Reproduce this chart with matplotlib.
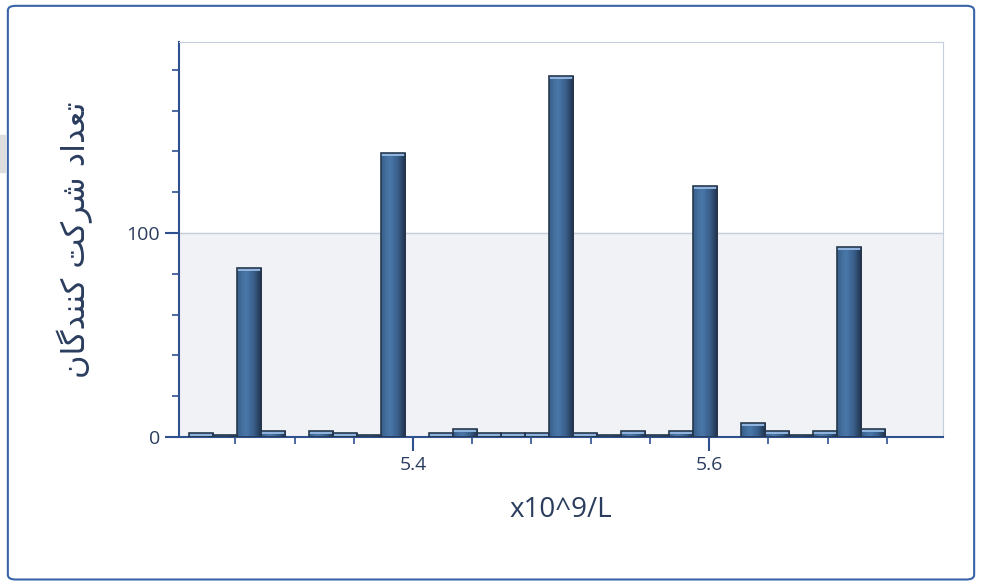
import numpy as np
import matplotlib.pyplot as plt
from matplotlib.patches import FancyBboxPatch, Rectangle
from matplotlib.colors import LinearSegmentedColormap

# histogram bins (x10^9/L) and counts
bin_start = 5.2486
bin_width = 0.01622
counts = [2, 1, 83, 3, 0, 3, 2, 1, 139, 0, 2, 4, 2, 2, 2, 177, 2, 1, 3, 1, 3, 123, 0, 7, 3, 1, 3, 93, 4]
x_ticks = [5.4, 5.6]
y_ticks = [0, 100]
x_label = "x10^9/L"
# "تعداد شرکت کنندگان" in shaped, visual order
y_label = "\uFEE5\uFE8E\uFB94\uFEAA\uFEE8\uFEE8\uFB90 \uFE96\uFB90\uFEAE\uFEB7 \uFEA9\uFE8D\uFEAA\uFECC\uFE97"

txt = "#2b3d5e"
plt.rcParams['font.family'] = ['Open Sans', 'DejaVu Sans']

fig = plt.figure(figsize=(9.82, 5.83), dpi=100)
fig.patches.append(FancyBboxPatch((0.008, 0.006), 0.984, 0.984, boxstyle="round,pad=0,rounding_size=0.008",
                                  transform=fig.transFigure, fill=False, ec="#3a64a8", lw=1.5))
fig.patches.append(Rectangle((0, 0.705), 0.005, 0.064, transform=fig.transFigure, color="#dddddd"))

ax = fig.add_axes([179/982, (583-437)/583, (943-179)/982, (437-42)/583])
ax.set_xlim(5.2419, 5.758)
ax.set_ylim(0, 193.6)
ax.axhspan(0, 100, color="#f1f2f6", zorder=0)
ax.axhline(100, color="#c5cedb", lw=1, zorder=1)

lefts = bin_start + bin_width * np.arange(len(counts))
g = np.linspace(0, 1, 64)
g = np.clip(1 - np.abs(g - 0.35) / 0.65, 0, 1)
grad = np.vstack([g, g])
cmap = LinearSegmentedColormap.from_list("b", ["#1d3048", "#3a608c", "#4a78aa"])
for l, c in zip(lefts, counts):
    if c <= 0:
        continue
    r = Rectangle((l, 0), bin_width, c, fc="none", ec="#26384f", lw=1.2, zorder=4)
    ax.add_patch(r)
    im = ax.imshow(grad, extent=(l, l + bin_width, 0, c), aspect="auto", cmap=cmap, zorder=3)
    im.set_clip_path(r)
    if c > 1:
        ax.add_patch(Rectangle((l, c - 1.4), bin_width, 1.4, fc="#8fb3dc", ec="none", zorder=3.5))

ax.set_xticks(x_ticks, ["5.4", "5.6"])
ax.set_xticks(np.arange(5.28, 5.75, 0.04), minor=True)
ax.set_yticks(y_ticks)
ax.set_yticks(np.arange(0, 193, 20), minor=True)
for s in ["top", "right"]:
    ax.spines[s].set_color("#c5cedb")
for s in ["left", "bottom"]:
    ax.spines[s].set_color("#2f5190")
    ax.spines[s].set_linewidth(1.5)
ax.tick_params(which="major", length=10, width=1.5, color="#2f5190", labelcolor=txt, labelsize=14)
ax.tick_params(which="minor", length=5, width=1.2, color="#2f5190")
ax.set_xlabel(x_label, fontsize=20, color=txt, labelpad=16)
ax.set_ylabel(y_label, fontsize=23, color=txt, family=['DejaVu Sans'], labelpad=24)

fig.savefig("out.png", dpi=100)
